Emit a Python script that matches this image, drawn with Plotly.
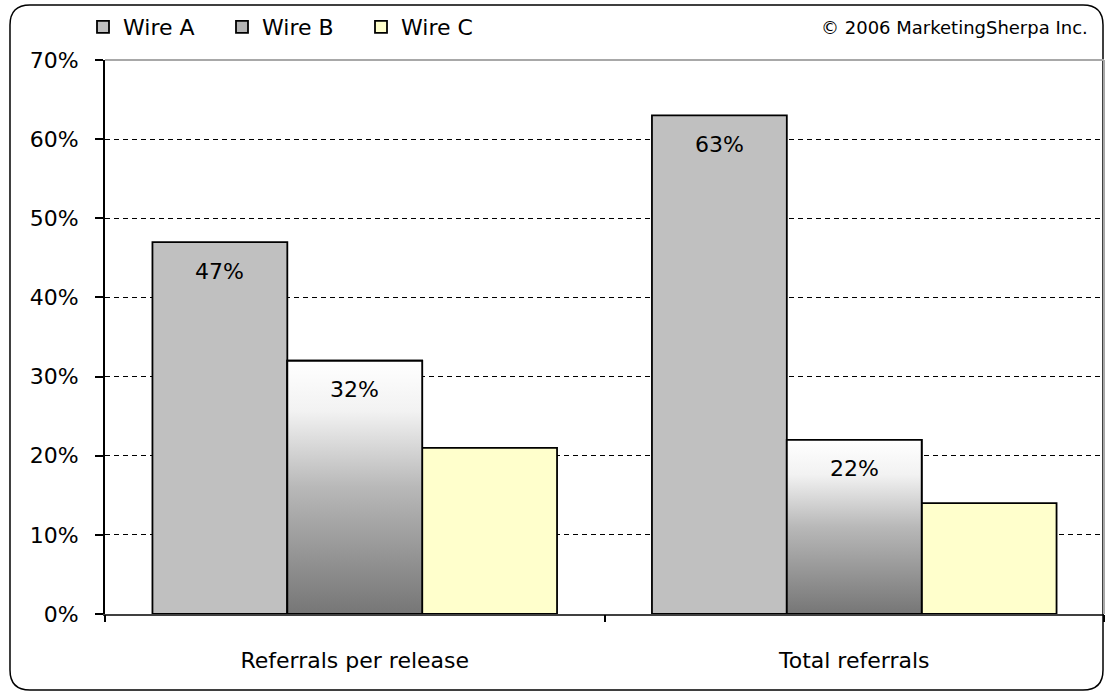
import plotly.graph_objects as go

categories = ["Referrals per release", "Total referrals"]
series_names = ["Wire A", "Wire B", "Wire C"]
wire_a = [0.47, 0.63]
wire_b = [0.32, 0.22]
wire_c = [0.21, 0.14]
labels_a = ["47%", "63%"]
labels_b = ["32%", "22%"]
y_ticks = [0, 0.1, 0.2, 0.3, 0.4, 0.5, 0.6, 0.7]

FONT = "DejaVu Sans"
W, H = 1105, 694
ML, MR, MT, MB = 105, 1, 60, 80
BARGAP = 0.19
bar_w = (1 - BARGAP) / 3
xpos = list(range(len(categories)))

fig = go.Figure()
line = dict(color="#000000", width=1.8)
fig.add_trace(go.Bar(name=series_names[0], x=xpos, y=wire_a,
                     marker=dict(color="#c0c0c0", line=line)))
fig.add_trace(go.Bar(name=series_names[1], x=xpos, y=wire_b,
                     marker=dict(color="#b4b4b4", line=line)))
fig.add_trace(go.Bar(name=series_names[2], x=xpos, y=wire_c,
                     marker=dict(color="#ffffcc", line=line)))

# gradient overlay for Wire B bars (polygon derived from data values)
for xi, v in zip(xpos, wire_b):
    x0, x1 = xi - bar_w / 2, xi + bar_w / 2
    fig.add_trace(go.Scatter(
        x=[x0, x1, x1, x0, x0], y=[0, 0, v, v, 0],
        mode="lines", fill="toself", showlegend=False, hoverinfo="skip",
        line=dict(color="#000000", width=1.8),
        fillgradient=dict(type="vertical",
                          colorscale=[[0, "#767676"], [0.5, "#b8b8b8"],
                                      [0.8, "#f2f2f2"], [1, "#ffffff"]]),
    ))

annotations = []
for xi, v, t in zip(xpos, wire_a, labels_a):
    annotations.append(dict(x=xi - bar_w, y=v, text=t, showarrow=False,
                            yanchor="middle", yshift=-29,
                            font=dict(family=FONT, size=22, color="#000")))
for xi, v, t in zip(xpos, wire_b, labels_b):
    annotations.append(dict(x=xi, y=v, text=t, showarrow=False,
                            yanchor="middle", yshift=-29,
                            font=dict(family=FONT, size=22, color="#000")))

pw, ph = W - ML - MR, H - MT - MB
def px2paper(px, py):
    return (px - ML) / pw, (H - MB - py) / ph

annotations.append(dict(xref="paper", yref="paper",
                         x=px2paper(1090, 27)[0], y=px2paper(1090, 27)[1],
                         xanchor="right", yanchor="middle", showarrow=False,
                         text="© 2006 MarketingSherpa Inc.",
                         font=dict(family=FONT, size=18, color="#000")))

# outer rounded frame
L, T, R, B, r = 10, 5, 1103, 690, 20
def P(px, py):
    a, b = px2paper(px, py)
    return f"{a:.5f},{b:.5f}"
path = (f"M{P(L, T + r)} Q{P(L, T)} {P(L + r, T)} L{P(R - r, T)} "
        f"Q{P(R, T)} {P(R, T + r)} L{P(R, B - r)} Q{P(R, B)} {P(R - r, B)} "
        f"L{P(L + r, B)} Q{P(L, B)} {P(L, B - r)} Z")
shapes = [
    dict(type="path", xref="paper", yref="paper", path=path,
         line=dict(color="#000000", width=1.5), layer="above"),
    dict(type="line", xref="paper", yref="paper", x0=0, x1=1, y0=1, y1=1,
         line=dict(color="#a8a8a8", width=2)),
    dict(type="line", xref="paper", yref="paper", x0=1, x1=1, y0=0, y1=1,
         line=dict(color="#a8a8a8", width=2)),
]

xr = [-0.5, len(categories) - 0.5]
fig.update_layout(
    width=W, height=H,
    margin=dict(l=ML, r=MR, t=MT, b=MB),
    paper_bgcolor="#ffffff", plot_bgcolor="#ffffff",
    barmode="group", bargap=BARGAP, bargroupgap=0,
    font=dict(family=FONT, size=22, color="#000"),
    showlegend=True,
    legend=dict(orientation="h", x=px2paper(83, 27)[0], xanchor="left",
                y=px2paper(83, 27)[1], yanchor="middle",
                entrywidth=94, entrywidthmode="pixels",
                font=dict(family=FONT, size=22, color="#000"),
                bgcolor="rgba(0,0,0,0)"),
    xaxis=dict(range=xr, tickvals=xpos, ticktext=categories, ticks="",
               showgrid=False, zeroline=False, showline=True,
               linecolor="#404040", linewidth=2, ticklabelstandoff=26,
               tickfont=dict(family=FONT, size=22, color="#000")),
    xaxis2=dict(range=xr, overlaying="x", anchor="y", side="bottom",
                tickvals=[xr[0], 0.5, xr[1]], ticks="outside", ticklen=7,
                tickcolor="#000", tickwidth=1.5, showticklabels=False,
                showgrid=False, zeroline=False, showline=False),
    yaxis=dict(range=[0, 0.7], tickvals=y_ticks, tickformat=".0%",
               ticks="outside", ticklen=8, tickcolor="#000", tickwidth=1.5,
               showline=True, linecolor="#000", linewidth=2,
               showgrid=True, gridcolor="#000", gridwidth=1.3,
               griddash="5px,4px", zeroline=False, ticklabelstandoff=12,
               tickfont=dict(family=FONT, size=22, color="#000")),
    annotations=annotations,
    shapes=shapes,
)
# invisible trace to activate xaxis2
fig.add_trace(go.Scatter(x=[xr[0]], y=[0], xaxis="x2", mode="markers",
                         marker=dict(opacity=0), showlegend=False,
                         hoverinfo="skip"))

fig.write_html("out.html", config={"displayModeBar": False},
               post_script="document.body.style.margin='0';")
